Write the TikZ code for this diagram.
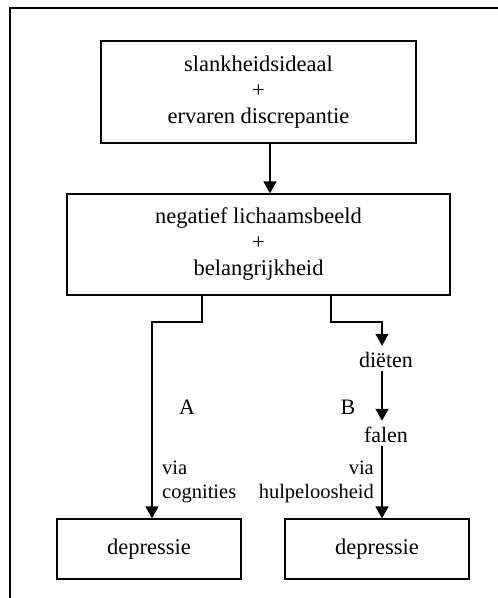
\documentclass[tikz,border=0pt]{standalone}
\usepackage{fontspec}
\setmainfont{Liberation Serif}
\usetikzlibrary{arrows.meta}
\begin{document}
\begin{tikzpicture}[
  x=1pt, y=-1pt,
  every node/.style={font=\fontsize{22.5}{26}\selectfont},
  box/.style={draw, line width=1.3pt, inner sep=0pt, align=center},
  step label/.style={inner sep=0pt, text height=21pt, text depth=4pt,
    font=\fontsize{22}{26}\selectfont},
  side label/.style={inner sep=0pt, font=\fontsize{20.5}{23.5}\selectfont},
  route label/.style={inner sep=0pt, font=\fontsize{22}{26}\selectfont},
  link/.style={line width=1.3pt},
  arr/.style={link, -{Triangle[width=13pt,length=12pt]}},
  frame/.style={line width=1.4pt}
]
\clip (0,0) rectangle (498,598);

% page frame (only top and left edges fall inside the picture)
\draw[frame] (10,620) -- (10,8) -- (520,8);

% boxes
\node[box, minimum width=315pt, minimum height=102pt] (top) at (258.5,92)
  {slankheidsideaal\\+\\ervaren discrepantie};
\node[box, minimum width=383pt, minimum height=101pt] (mid) at (258.5,244.5)
  {negatief lichaamsbeeld\\+\\belangrijkheid};
\node[box, minimum width=184pt, minimum height=60pt] (depL) at (149,549) {depressie};
\node[box, minimum width=184pt, minimum height=60pt] (depR) at (377,549) {depressie};

% intermediate steps of route B
\node[step label, anchor=base] (diet) at (386,367) {diëten};
\node[step label, anchor=base] (fal) at (386,442) {falen};

% route labels
\node[route label] (labA) at (187,407) {A};
\node[route label] (labB) at (348,407) {B};
\node[side label, align=left, anchor=north west] (viaA) at (162,461) {via\\cognities};
\node[side label, align=right, anchor=north east] (viaB) at (374,461) {via\\hulpeloosheid};

% helper coordinates for the elbow connectors
\coordinate (c0) at (270,0);
\coordinate (xA) at (202,0);
\coordinate (kA) at (152,322);
\coordinate (xB) at (331,0);
\coordinate (kB) at (382,322);

% connectors
\draw[arr] (top.south -| c0) -- (mid.north -| c0);
\draw[arr] (mid.south -| xA) |- (kA) -- (depL.north -| kA);
\draw[arr] (mid.south -| xB) |- (kB) -- (diet.north -| kB);
\draw[arr] (diet.south -| kB) -- (fal.north -| kB);
\draw[arr] (fal.south -| kB) -- (depR.north -| kB);
\end{tikzpicture}
\end{document}
